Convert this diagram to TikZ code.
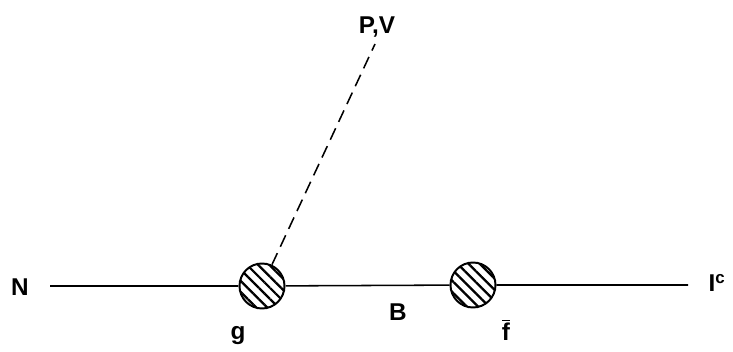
\documentclass[tikz,border=0pt]{standalone}
\usepackage{fontspec}
\setmainfont{Liberation Sans}
\usetikzlibrary{patterns.meta}

\tikzset{
    blob/.style={circle, draw, line width=1.4pt, minimum size=45*0.025cm, inner sep=0pt,
        pattern={Lines[angle=-45, distance=5.6pt, line width=1.6pt]}},
    lbl/.style={font=\LARGE\bfseries}
}

\begin{document}
\begin{tikzpicture}[x=0.025cm, y=-0.025cm]
    \useasboundingbox (0,0) rectangle (733,352);

    % end points of the line
    \coordinate (nend) at (50,286);
    \coordinate (lend) at (688,285);
    \coordinate (pvend) at (375,44);

    % vertices
    \node[blob] (gblob) at (262,286) {};
    \node[blob] (fblob) at (473,285) {};

    % lines
    \draw[line width=1.1pt] (nend) -- (gblob) -- (fblob) -- (lend);
    \draw[line width=1.1pt, dash pattern=on 9pt off 5pt] (gblob) -- (pvend);

    % labels
    \node[lbl] (nlbl) at (20,287) {N};
    \node[lbl] (llbl) at (717,283) {I\textsuperscript{c}};
    \node[lbl] (pvlbl) at (377,27) {P,V};
    \node[lbl] (glbl) at (238,336) {g};
    \node[lbl] (blbl) at (398,312) {B};
    \node[lbl] (flbl) at (506,330) {$\overline{\mbox{f}}$};
\end{tikzpicture}
\end{document}
